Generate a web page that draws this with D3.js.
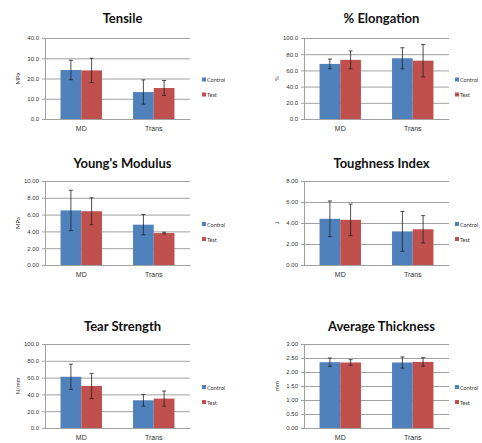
<!DOCTYPE html>
<html>
<head>
<meta charset="utf-8">
<script src="https://cdn.jsdelivr.net/npm/d3@7"></script>
<style>
  body { margin: 0; background: #fff; }
  svg { display: block; font-family: Lato, "Open Sans", Arial, sans-serif; }
</style>
</head>
<body>
<svg id="chart" width="482" height="443"></svg>
<script>
// ---- DATA ----
const categories = ['MD', 'Trans'];
const seriesNames = ['Control', 'Test'];
const titles = ['Tensile', '% Elongation', "Young's Modulus", 'Toughness Index', 'Tear Strength', 'Average Thickness'];
const units = ['MPa', '%', 'MPa', 'J', 'N/mm', 'mm'];
const yMax = [40, 100, 10, 8, 100, 3];
const yStep = [10, 20, 2, 2, 20, 0.5];
const tickDigits = [1, 1, 2, 2, 1, 2];

// means per panel: [MD, Trans]
const controlMeans = [[24.2, 13.3], [68, 75], [6.5, 4.8], [4.4, 3.2], [61, 33], [2.35, 2.34]];
const testMeans = [[24.0, 15.3], [73, 72], [6.4, 3.8], [4.3, 3.4], [50, 35], [2.34, 2.36]];
const controlErr = [[4.8, 6.0], [6, 13], [2.4, 1.2], [1.7, 1.9], [15, 7], [0.15, 0.2]];
const testErr = [[6.0, 3.7], [11, 20], [1.6, 0.1], [1.5, 1.3], [15, 9], [0.1, 0.15]];

const colors = ['#4f81bd', '#c0504d'];

// ---- LAYOUT ----
const colLeft = [45, 304];
const plotW = 145;
const legendGap = [12, 6];
const rowTop = [38, 181, 344];
const rowBottom = [119, 265, 428];
const titleY = [23, 168, 331];

const svg = d3.select('#chart');

titles.forEach((title, i) => {
  const col = i % 2, row = Math.floor(i / 2);
  const left = colLeft[col];
  const top = rowTop[row], bottom = rowBottom[row];
  const h = bottom - top;

  const g = svg.append('g').attr('transform', `translate(${left},${top})`);

  const y = d3.scaleLinear().domain([0, yMax[i]]).range([h, 0]);
  const ticks = d3.range(0, yMax[i] + yStep[i] / 2, yStep[i]);

  const x0 = d3.scaleBand().domain(categories).range([0, plotW]);
  const groupW = x0.step() / 1.75;
  const x1 = d3.scaleBand().domain(seriesNames).range([0, groupW]);
  const off = (x0.step() - groupW) / 2;

  // title
  svg.append('text')
    .attr('x', left + plotW / 2 + 5).attr('y', titleY[row])
    .attr('text-anchor', 'middle')
    .style('font-size', '13px').style('font-weight', '700')
    .style('fill', '#111')
    .text(title);

  // gridlines
  g.append('g')
    .call(d3.axisLeft(y).tickValues(ticks).tickSize(-plotW).tickFormat(''))
    .call(a => a.select('.domain').remove())
    .call(a => a.selectAll('line').style('stroke', '#a0a0a0'));

  // bars + error bars
  categories.forEach((cat, c) => {
    const vals = [controlMeans[i][c], testMeans[i][c]];
    const errs = [controlErr[i][c], testErr[i][c]];
    seriesNames.forEach((s, k) => {
      const bx = x0(cat) + off + x1(s);
      g.append('rect')
        .attr('x', bx).attr('y', y(vals[k]))
        .attr('width', x1.bandwidth()).attr('height', h - y(vals[k]))
        .attr('fill', colors[k]);
      const cx = bx + x1.bandwidth() / 2;
      const y1 = y(Math.min(vals[k] + errs[k], yMax[i]));
      const y2 = y(Math.max(vals[k] - errs[k], 0));
      g.append('line').attr('x1', cx).attr('x2', cx).attr('y1', y1).attr('y2', y2)
        .style('stroke', '#222').style('stroke-width', 0.8);
      [y1, y2].forEach(yy => g.append('line')
        .attr('x1', cx - 2).attr('x2', cx + 2).attr('y1', yy).attr('y2', yy)
        .style('stroke', '#222').style('stroke-width', 0.8));
    });
  });

  // y axis
  g.append('g')
    .call(d3.axisLeft(y).tickValues(ticks).tickSize(3).tickPadding(3)
      .tickFormat(d3.format(`.${tickDigits[i]}f`)))
    .call(a => a.select('.domain').style('stroke', '#a0a0a0'))
    .call(a => a.selectAll('line').style('stroke', '#a0a0a0'))
    .call(a => a.selectAll('text').style('font-size', '6px').style('fill', '#333'));

  // x axis
  g.append('g')
    .attr('transform', `translate(0,${h})`)
    .call(d3.axisBottom(x0).tickSize(0).tickPadding(7))
    .call(a => a.select('.domain').style('stroke', '#a0a0a0'))
    .call(a => a.selectAll('text').style('font-size', '7px').style('fill', '#333'));

  // unit label
  g.append('text')
    .attr('transform', 'rotate(-90)')
    .attr('x', -h / 2).attr('y', -25)
    .attr('text-anchor', 'middle')
    .style('font-size', '6px').style('fill', '#333')
    .text(units[i]);

  // legend
  const lg = g.append('g').attr('transform', `translate(${plotW + legendGap[col]},${h / 2 + 2})`);
  seriesNames.forEach((s, k) => {
    lg.append('rect').attr('x', 0).attr('y', k * 15 - 3).attr('width', 4).attr('height', 4)
      .attr('fill', colors[k]);
    lg.append('text').attr('x', 5).attr('y', k * 15 + 1.5)
      .style('font-size', '5.5px').style('fill', '#333')
      .text(s);
  });
});
</script>
</body>
</html>
